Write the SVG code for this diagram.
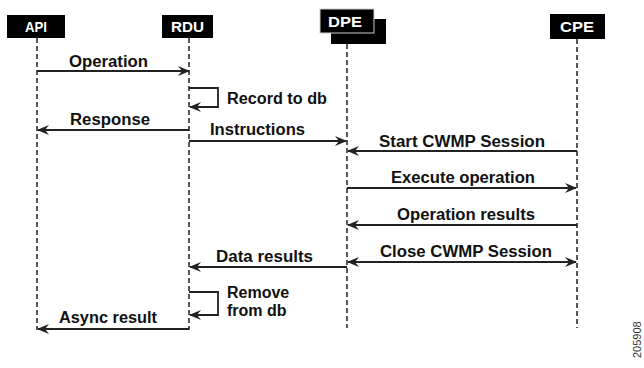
<svg xmlns="http://www.w3.org/2000/svg" width="644" height="368" viewBox="0 0 644 368">
  <style>
    .box { fill: #000; }
    .hdr { font-family: "Liberation Sans", Arial, sans-serif; font-weight: bold; font-size: 15px; fill: #fff; text-anchor: middle; }
    .life { stroke: #222; stroke-width: 1.5; stroke-dasharray: 5 3; fill: none; }
    .msg { stroke: #222; stroke-width: 1.8; fill: none; }
    .lbl { font-family: "Liberation Sans", Arial, sans-serif; font-weight: bold; font-size: 16px; fill: #111; }
    .mark { font-family: "Liberation Sans", Arial, sans-serif; font-size: 11px; fill: #333; }
  </style>
  <defs>
    <marker id="arrow" viewBox="0 0 12 10" refX="11" refY="5" markerWidth="12" markerHeight="10" markerUnits="userSpaceOnUse" orient="auto-start-reverse">
      <path d="M0,0 L12,5 L0,10 L4,5 z" fill="#222"/>
    </marker>
  </defs>

  <!-- lifelines -->
  <g id="lifelines">
    <line class="life" x1="37" y1="38" x2="37" y2="330"/>
    <line class="life" x1="189" y1="38" x2="189" y2="330"/>
    <line class="life" x1="347" y1="44" x2="347" y2="328"/>
    <line class="life" x1="577" y1="39" x2="577" y2="328"/>
  </g>

  <!-- participants -->
  <g id="api">
    <rect class="box" x="7" y="15" width="58" height="23"/>
    <text class="hdr" x="36" y="32" textLength="22" lengthAdjust="spacingAndGlyphs">API</text>
  </g>
  <g id="rdu">
    <rect class="box" x="162" y="15" width="51" height="23"/>
    <text class="hdr" x="187.5" y="32" textLength="33" lengthAdjust="spacingAndGlyphs">RDU</text>
  </g>
  <g id="dpe">
    <rect class="box" x="331" y="19" width="55" height="25"/>
    <rect class="box" x="320" y="9" width="54" height="24" stroke="#ccc" stroke-width="1"/>
    <text class="hdr" x="345" y="27" font-weight="normal" font-size="17" textLength="34" lengthAdjust="spacingAndGlyphs">DPE</text>
  </g>
  <g id="cpe">
    <rect class="box" x="550" y="14" width="55" height="25"/>
    <text class="hdr" x="577" y="32" font-size="16" textLength="34" lengthAdjust="spacingAndGlyphs">CPE</text>
  </g>

  <!-- messages -->
  <g id="connectors">
    <line class="msg" x1="37" y1="71" x2="189" y2="71" marker-end="url(#arrow)"/>
    <path class="msg" d="M189,88 H218 V107 H190" marker-end="url(#arrow)"/>
    <line class="msg" x1="189" y1="130" x2="38" y2="130" marker-end="url(#arrow)"/>
    <line class="msg" x1="189" y1="141" x2="346" y2="141" marker-end="url(#arrow)"/>
    <line class="msg" x1="577" y1="151" x2="348" y2="151" marker-end="url(#arrow)"/>
    <line class="msg" x1="347" y1="188" x2="576" y2="188" marker-end="url(#arrow)"/>
    <line class="msg" x1="577" y1="225" x2="348" y2="225" marker-end="url(#arrow)"/>
    <line class="msg" x1="348" y1="262" x2="576" y2="262" marker-start="url(#arrow)" marker-end="url(#arrow)"/>
    <line class="msg" x1="347" y1="267" x2="190" y2="267" marker-end="url(#arrow)"/>
    <path class="msg" d="M189,292 H218 V315 H190" marker-end="url(#arrow)"/>
    <line class="msg" x1="189" y1="329" x2="38" y2="329" marker-end="url(#arrow)"/>
  </g>

  <!-- message labels -->
  <g id="labels">
    <text class="lbl" x="69" y="67" textLength="79" lengthAdjust="spacingAndGlyphs">Operation</text>
    <text class="lbl" x="227" y="104" textLength="100" lengthAdjust="spacingAndGlyphs">Record to db</text>
    <text class="lbl" x="70" y="125" textLength="80" lengthAdjust="spacingAndGlyphs">Response</text>
    <text class="lbl" x="210" y="135" textLength="95" lengthAdjust="spacingAndGlyphs">Instructions</text>
    <text class="lbl" x="379" y="147" textLength="166" lengthAdjust="spacingAndGlyphs">Start CWMP Session</text>
    <text class="lbl" x="391" y="183" textLength="144" lengthAdjust="spacingAndGlyphs">Execute operation</text>
    <text class="lbl" x="397" y="220" textLength="138" lengthAdjust="spacingAndGlyphs">Operation results</text>
    <text class="lbl" x="380" y="257" textLength="172" lengthAdjust="spacingAndGlyphs">Close CWMP Session</text>
    <text class="lbl" x="216" y="262" textLength="97" lengthAdjust="spacingAndGlyphs">Data results</text>
    <text class="lbl" x="227" y="298">Remove</text>
    <text class="lbl" x="227" y="316">from db</text>
    <text class="lbl" x="59" y="323" textLength="98" lengthAdjust="spacingAndGlyphs">Async result</text>
  </g>

  <text class="mark" x="641" y="358" transform="rotate(-90 641 358)">205908</text>
</svg>
